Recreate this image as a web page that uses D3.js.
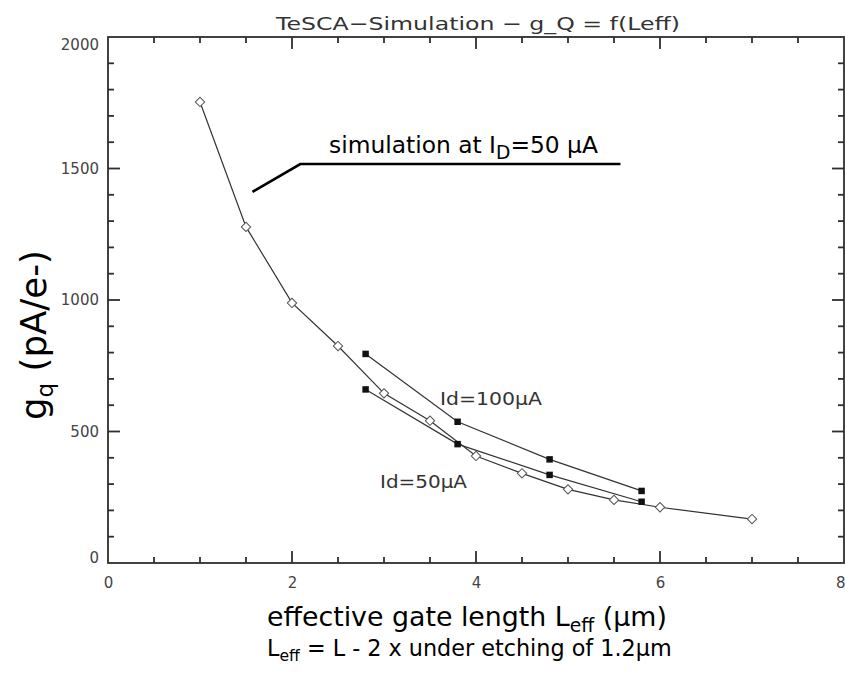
<!DOCTYPE html>
<html>
<head>
<meta charset="utf-8">
<script src="https://cdn.jsdelivr.net/npm/d3@7"></script>
<style>
  html, body { margin: 0; padding: 0; background: #fff; }
  svg { display: block; }
</style>
</head>
<body>
<svg id="chart" width="845" height="675"></svg>
<script>
// ---- data ----
const simX   = [1, 1.5, 2, 2.5, 3, 3.5, 4, 4.5, 5, 5.5, 6, 7];
const simY   = [1753, 1278, 989, 825, 645, 541, 407, 341, 280, 240, 212, 167];
const measX  = [2.8, 3.8, 4.8, 5.8];
const id50Y  = [660, 452, 335, 233];
const id100Y = [795, 537, 394, 274];
const xTickLabels = [0, 2, 4, 6, 8];
const yTickLabels = [0, 500, 1000, 1500, 2000];
const titleText = "TeSCA\u2212Simulation \u2212 g_Q = f(Leff)";

// ---- layout ----
const svg = d3.select("#chart");
const x = d3.scaleLinear().domain([0, 8]).range([108, 844]);
const y = d3.scaleLinear().domain([0, 2000]).range([563, 37]);
const frameColor = "#2e2e2e";
const hershey = "'DejaVu Sans', sans-serif";
const tahoma = "'DejaVu Sans', sans-serif";

function fit(sel, width) {
  const base = parseFloat(sel.attr("font-size"));
  const w = sel.node().getComputedTextLength();
  sel.attr("font-size", base * width / w);
}

// frame
svg.append("rect")
  .attr("x", x(0)).attr("y", y(2000))
  .attr("width", x(8) - x(0)).attr("height", y(0) - y(2000))
  .attr("fill", "none").attr("stroke", frameColor).attr("stroke-width", 1.8);

// ticks (inward on all four sides)
const xTicks = d3.range(0.5, 8, 0.5).map(v => ({ v, len: v % 2 === 0 ? 12 : 6 }));
const yTicks = d3.range(100, 2000, 100).map(v => ({ v, len: v % 500 === 0 ? 12 : 6 }));
const tg = svg.append("g").attr("stroke", frameColor).attr("stroke-width", 1.8);
tg.selectAll("line.xb").data(xTicks).join("line").attr("class", "xb")
  .attr("x1", d => x(d.v)).attr("x2", d => x(d.v))
  .attr("y1", y(0)).attr("y2", d => y(0) - d.len);
tg.selectAll("line.xt").data(xTicks).join("line").attr("class", "xt")
  .attr("x1", d => x(d.v)).attr("x2", d => x(d.v))
  .attr("y1", y(2000)).attr("y2", d => y(2000) + d.len);
tg.selectAll("line.yl").data(yTicks).join("line").attr("class", "yl")
  .attr("y1", d => y(d.v)).attr("y2", d => y(d.v))
  .attr("x1", x(0)).attr("x2", d => x(0) + d.len);
tg.selectAll("line.yr").data(yTicks).join("line").attr("class", "yr")
  .attr("y1", d => y(d.v)).attr("y2", d => y(d.v))
  .attr("x1", x(8)).attr("x2", d => x(8) - d.len);

// tick labels via axes
const gx = svg.append("g").attr("transform", `translate(0,${y(0)})`)
  .call(d3.axisBottom(x).tickValues(xTickLabels).tickSize(0).tickPadding(14).tickFormat(d3.format("d")));
gx.select(".domain").remove();
gx.selectAll("text").attr("font-family", hershey).attr("font-size", 15).attr("fill", "#444")
  .attr("text-anchor", d => d === 8 ? "end" : "middle")
  .attr("dx", d => d === 8 ? 1 : 0);

const gy = svg.append("g").attr("transform", `translate(${x(0)},0)`)
  .call(d3.axisLeft(y).tickValues(yTickLabels).tickSize(0).tickPadding(9).tickFormat(d3.format("d")));
gy.select(".domain").remove();
gy.selectAll("text").attr("font-family", hershey).attr("font-size", 15).attr("fill", "#444")
  .attr("dy", d => d === 0 ? "-0.05em" : d === 2000 ? "0.85em" : "0.32em");

// title
svg.append("text")
  .attr("x", 478).attr("y", 30).attr("text-anchor", "middle")
  .attr("font-family", hershey).attr("font-size", 18).attr("fill", "#333")
  .attr("textLength", 404).attr("lengthAdjust", "spacingAndGlyphs")
  .style("white-space", "pre")
  .text(titleText);

// lines
const line = d3.line().x(d => x(d[0])).y(d => y(d[1]));
const series = [
  { xs: simX, ys: simY, marker: "diamond" },
  { xs: measX, ys: id50Y, marker: "square" },
  { xs: measX, ys: id100Y, marker: "square" }
];
series.forEach(s => {
  const pts = s.xs.map((v, i) => [v, s.ys[i]]);
  svg.append("path").attr("d", line(pts))
    .attr("fill", "none").attr("stroke", "#333").attr("stroke-width", 1.2);
});
series.forEach(s => {
  const pts = s.xs.map((v, i) => [v, s.ys[i]]);
  if (s.marker === "diamond") {
    svg.append("g").selectAll("path").data(pts).join("path")
      .attr("d", d3.symbol(d3.symbolSquare, 44)())
      .attr("transform", d => `translate(${x(d[0])},${y(d[1])}) rotate(45)`)
      .attr("fill", "#fff").attr("stroke", "#555").attr("stroke-width", 1);
  } else {
    svg.append("g").selectAll("path").data(pts).join("path")
      .attr("d", d3.symbol(d3.symbolSquare, 42)())
      .attr("transform", d => `translate(${x(d[0])},${y(d[1])})`)
      .attr("fill", "#111");
  }
});

// series labels
svg.append("text").attr("x", 440).attr("y", 405)
  .attr("font-family", hershey).attr("font-size", 17).attr("fill", "#333")
  .attr("textLength", 102).attr("lengthAdjust", "spacingAndGlyphs").text("Id=100\u00b5A");
svg.append("text").attr("x", 380).attr("y", 488)
  .attr("font-family", hershey).attr("font-size", 17).attr("fill", "#333")
  .attr("textLength", 87).attr("lengthAdjust", "spacingAndGlyphs").text("Id=50\u00b5A");

// annotation
const leader = [[1.57, 1411], [2.09, 1517], [5.57, 1517]];
svg.append("path").attr("d", line(leader))
  .attr("fill", "none").attr("stroke", "#000").attr("stroke-width", 2.6);
const ann = svg.append("text").attr("x", 329).attr("y", 153)
  .attr("font-family", tahoma).attr("font-size", 20).attr("fill", "#000");
ann.append("tspan").text("simulation at I");
ann.append("tspan").attr("font-size", "0.8em").attr("dy", "0.3em").text("D");
ann.append("tspan").attr("dy", "-0.24em").text("=50 \u00b5A");
fit(ann, 269);

// axis titles
const xt = svg.append("text").attr("x", 267).attr("y", 626)
  .attr("font-family", tahoma).attr("font-size", 24).attr("fill", "#000");
xt.append("tspan").text("effective gate length L");
xt.append("tspan").attr("font-size", "0.7em").attr("dy", "0.3em").text("eff");
xt.append("tspan").attr("dy", "-0.21em").text(" (\u00b5m)");
fit(xt, 400);

const xt2 = svg.append("text").attr("x", 267).attr("y", 656)
  .attr("font-family", tahoma).attr("font-size", 18).attr("fill", "#000");
xt2.append("tspan").text("L");
xt2.append("tspan").attr("font-size", "0.7em").attr("dy", "0.3em").text("eff");
xt2.append("tspan").attr("dy", "-0.21em").text(" = L - 2 x under etching of 1.2\u00b5m");
fit(xt2, 405);

const yt = svg.append("text")
  .attr("transform", "translate(46,420) rotate(-90)")
  .attr("font-family", tahoma).attr("font-size", 25).attr("fill", "#000");
yt.append("tspan").text("g");
yt.append("tspan").attr("font-size", "0.65em").attr("dy", "0.3em").text("q");
yt.append("tspan").attr("dy", "-0.195em").text(" (pA/e-)");
fit(yt, 170);
</script>
</body>
</html>
